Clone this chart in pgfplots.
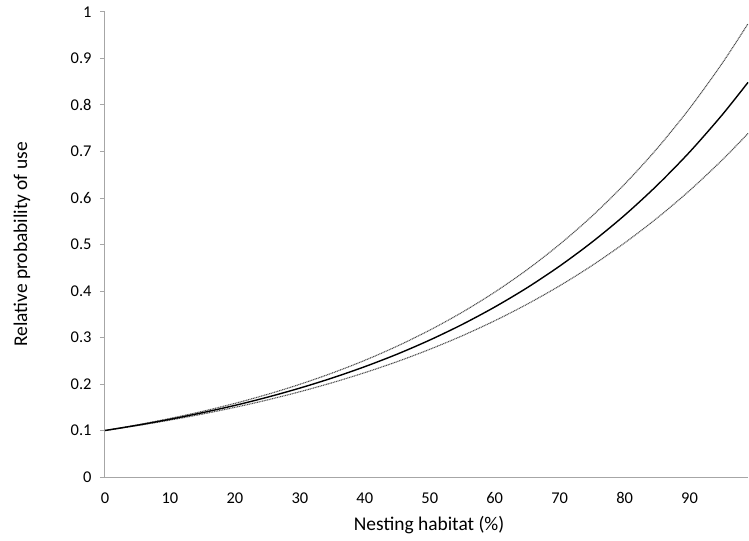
\documentclass[border=0pt]{standalone}
\usepackage{pgfplots}
\pgfplotsset{compat=1.18}
\usepackage{fontspec}
\setmainfont{Carlito}
\definecolor{axisgray}{HTML}{A6A6A6}
\begin{document}
\fontsize{16}{19}\selectfont
\begin{tikzpicture}
\begin{axis}[
  name=a,
  scale only axis,
  width=643bp, height=465bp,
  xmin=0, xmax=99, ymin=0, ymax=1,
  axis lines*=left,
  axis line style={axisgray, line width=1bp, -},
  xtick={0,10,20,30,40,50,60,70,80,90},
  ytick={0,0.1,0.2,0.3,0.4,0.5,0.6,0.7,0.8,0.9,1},
  yticklabels={0,0.1,0.2,0.3,0.4,0.5,0.6,0.7,0.8,0.9,1},
  xticklabels={0,10,20,30,40,50,60,70,80,90},
  tick align=outside,
  xtick style={draw=none},
  ytick style={axisgray, line width=1bp},
  major tick length=5bp,
  /pgf/number format/assume math mode=true,
  tick label style={font=\fontsize{16.5}{19}\selectfont, black},
  yticklabel style={anchor=east, xshift=-3bp},
  xticklabel style={anchor=north, yshift=-5bp},
  every axis y label/.style={at={(axis description cs:-0.129,0.5)}, rotate=90, anchor=center},
  every axis x label/.style={at={(axis description cs:0.504,-0.103)}, anchor=center},
  label style={font=\fontsize{19.5}{23}\selectfont, black},
  xlabel={Nesting habitat (\%)},
  ylabel={Relative probability of use},
  clip=false,
]
\addplot[smooth, gray!60!black, line width=1.1bp, dash pattern=on 1bp off 0.7bp] coordinates {
(0,0.1) (5,0.1122) (10,0.1259) (15,0.1412) (20,0.1584) (25,0.1777) (30,0.1994) (35,0.2237) (40,0.2509) (45,0.2815) (50,0.3158) (55,0.3543) (60,0.3975) (65,0.4459) (70,0.5003) (75,0.5613) (80,0.6297) (85,0.7064) (90,0.7925) (95,0.8891) (99,0.9747)};
\addplot[smooth, gray!60!black, line width=1.1bp, dash pattern=on 1bp off 0.7bp] coordinates {
(0,0.1) (5,0.1106) (10,0.1224) (15,0.1354) (20,0.1498) (25,0.1657) (30,0.1833) (35,0.2028) (40,0.2244) (45,0.2482) (50,0.2746) (55,0.3037) (60,0.3360) (65,0.3717) (70,0.4112) (75,0.4549) (80,0.5033) (85,0.5568) (90,0.6159) (95,0.6814) (99,0.7388)};
\addplot[smooth, black, line width=1.4bp] coordinates {
(0,0.1) (5,0.1114) (10,0.1241) (15,0.1383) (20,0.1540) (25,0.1716) (30,0.1912) (35,0.2130) (40,0.2373) (45,0.2643) (50,0.2945) (55,0.3281) (60,0.3655) (65,0.4071) (70,0.4536) (75,0.5053) (80,0.5629) (85,0.6272) (90,0.6987) (95,0.7784) (99,0.8486)};
\end{axis}
\pgfresetboundingbox
\path ([xshift=-105bp,yshift=-63bp]a.south west) rectangle ([xshift=1bp,yshift=12bp]a.north east);
\end{tikzpicture}
\end{document}
